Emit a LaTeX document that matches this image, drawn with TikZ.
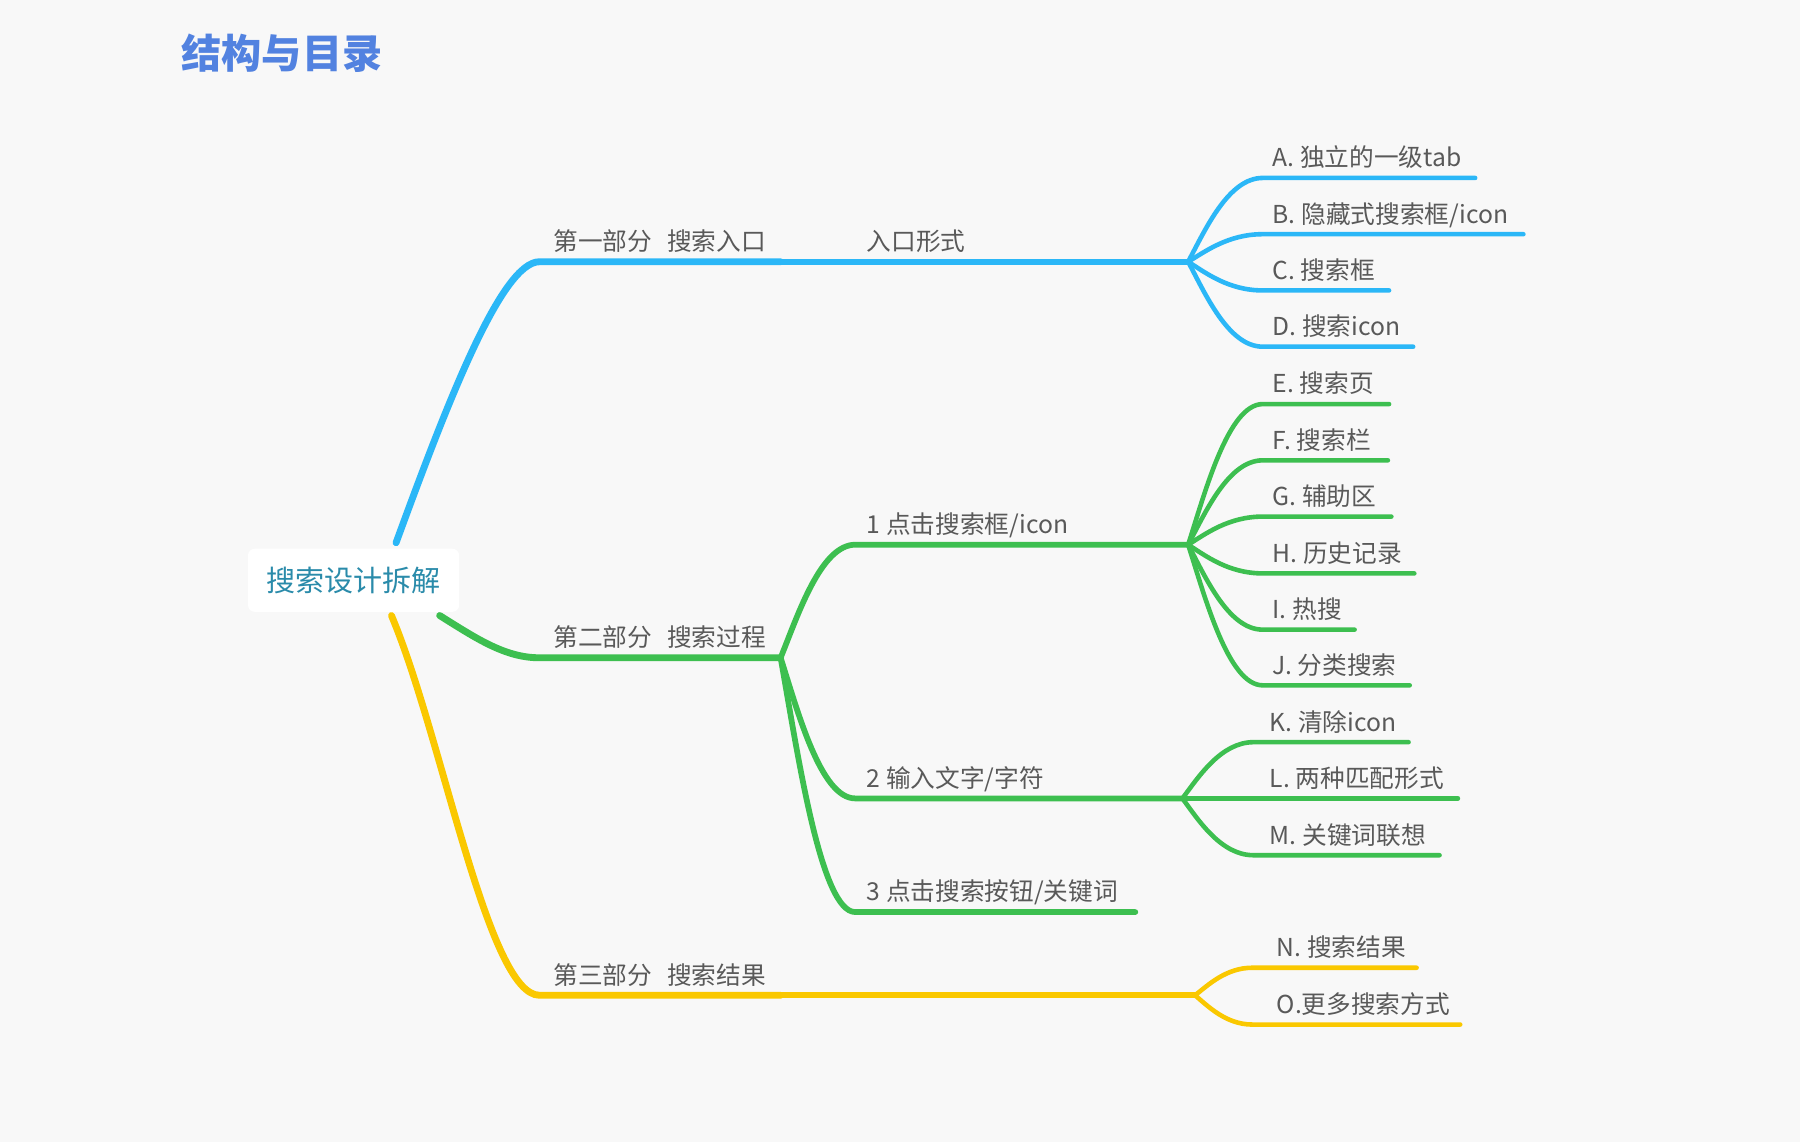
\documentclass[tikz,border=0pt]{standalone}
\usepackage{fontspec}
\setmainfont{Noto Sans CJK SC}
\usepackage{xcolor}
\usepackage{tikz}

\definecolor{bgpage}{HTML}{F8F8F8}
\definecolor{titleblue}{HTML}{5282E0}
\definecolor{rootteal}{HTML}{2A8BAA}
\definecolor{txtgray}{HTML}{595959}
\definecolor{lineblue}{HTML}{2BB7F7}
\definecolor{linegreen}{HTML}{3DBF50}
\definecolor{lineyellow}{HTML}{FAC800}

\begin{document}
\begin{tikzpicture}[x=1pt, y=-1pt, line cap=round,
    rootbox/.style={fill=white, rounded corners=6pt, minimum width=184pt, minimum height=55pt,
        text=rootteal, font=\fontsize{25.3}{30}\selectfont},
    parttopic/.style={anchor=south west, inner xsep=12pt, inner ysep=9.5pt, text depth=0pt,
        text=txtgray, font=\fontsize{21.5}{26}\selectfont},
    subtopic/.style={parttopic, inner xsep=10pt},
    leaftopic/.style={parttopic, inner xsep=8.5pt},
    lv1/.style={line width=6pt},
    lv2/.style={line width=5pt},
    lv3/.style={line width=4pt}]
    \fill[bgpage] (0,0) rectangle (1568,994.8);
    \useasboundingbox (0,0) rectangle (1568,994.8);

    % title and central topic
    \node[anchor=west, inner sep=0pt, text=titleblue, font=\fontsize{35}{40}\selectfont\bfseries] (title) at (158,46) {结构与目录};
    \node[rootbox] (root) at (308,505.5) {搜索设计拆解};

    % main topics
    \node[parttopic] (p1) at (470,228) {第一部分\hspace{0.6em}搜索入口};
    \node[parttopic] (p2) at (470,573) {第二部分\hspace{0.6em}搜索过程};
    \node[parttopic] (p3) at (470,867) {第三部分\hspace{0.6em}搜索结果};

    \node[subtopic] (s1) at (745,228) {入口形式};
    \node[subtopic] (s2) at (745,474.5) {1 点击搜索框/icon};
    \node[subtopic] (s3) at (745,695.5) {2 输入文字/字符};
    \node[subtopic] (s4) at (745,794.5) {3 点击搜索按钮/关键词};

    % leaves
    \node[leaftopic] (A) at (1100,155) {A. 独立的一级tab};
    \node[leaftopic] (B) at (1100,204) {B. 隐藏式搜索框/icon};
    \node[leaftopic] (C) at (1100,253) {C. 搜索框};
    \node[leaftopic] (D) at (1100,302) {D. 搜索icon};
    \node[leaftopic] (E) at (1100,352) {E. 搜索页};
    \node[leaftopic] (F) at (1100,401) {F. 搜索栏};
    \node[leaftopic] (G) at (1100,450) {G. 辅助区};
    \node[leaftopic] (H) at (1100,499.5) {H. 历史记录};
    \node[leaftopic] (I) at (1100,548.5) {I. 热搜};
    \node[leaftopic] (J) at (1100,597) {J. 分类搜索};
    \node[leaftopic, inner xsep=14pt] (K) at (1092,646.5) {K. 清除icon};
    \node[leaftopic, inner xsep=14pt] (L) at (1092,695.5) {L. 两种匹配形式};
    \node[leaftopic, inner xsep=14pt] (M) at (1092,745) {M. 关键词联想};
    \node[leaftopic, inner xsep=21pt] (N) at (1091,843) {N. 搜索结果};
    \node[leaftopic, inner xsep=21pt] (O) at (1091,892.5) {O.更多搜索方式};

    % blue branch
    \draw[lineblue, lv1] ([xshift=37pt,yshift=5pt]root.north) .. controls +(45,-123) and +(-33,0) .. (p1.south west) -- ++(210,0) coordinate (p1end);
    \draw[lineblue, lv2] (p1end) -- (s1.south west) -- ++(290,0) coordinate (f1);
    \draw[lineblue, lv3] (f1) .. controls +(15,-28) and +(-30,0) .. (A.south west) -- ++(185,0);
    \draw[lineblue, lv3] (f1) .. controls +(15,-9) and +(-30,0) .. (B.south west) -- ++(227,0);
    \draw[lineblue, lv3] (f1) .. controls +(15,9.5) and +(-30,0) .. (C.south west) -- ++(110,0);
    \draw[lineblue, lv3] (f1) .. controls +(15,28) and +(-30,0) .. (D.south west) -- ++(131,0);

    % green branch
    \draw[linegreen, lv1] ([xshift=75pt,yshift=-3pt]root.south) .. controls +(32,20) and +(-30,0) .. (p2.south west) -- ++(210,0) coordinate (f2);
    \draw[linegreen, lv2] (f2) .. controls +(15,-37) and +(-30,0) .. (s2.south west) -- ++(290,0) coordinate (g1);
    \draw[linegreen, lv2] (f2) .. controls +(15,47) and +(-30,0) .. (s3.south west) -- ++(285,0) coordinate (g2);
    \draw[linegreen, lv2] (f2) .. controls +(15,84) and +(-30,0) .. (s4.south west) -- ++(244,0);
    \draw[linegreen, lv3] (g1) .. controls +(15,-46.5) and +(-30,0) .. (E.south west) -- ++(110,0);
    \draw[linegreen, lv3] (g1) .. controls +(15,-28) and +(-30,0) .. (F.south west) -- ++(109,0);
    \draw[linegreen, lv3] (g1) .. controls +(15,-9.3) and +(-30,0) .. (G.south west) -- ++(112,0);
    \draw[linegreen, lv3] (g1) .. controls +(15,9.5) and +(-30,0) .. (H.south west) -- ++(132,0);
    \draw[linegreen, lv3] (g1) .. controls +(15,28) and +(-30,0) .. (I.south west) -- ++(80,0);
    \draw[linegreen, lv3] (g1) .. controls +(15,46.5) and +(-30,0) .. (J.south west) -- ++(128,0);
    \draw[linegreen, lv3] (g2) .. controls +(14,-18.6) and +(-28.5,0) .. (K.south west) -- ++(135,0);
    \draw[linegreen, lv3] (g2) -- (L.south west) -- ++(178,0);
    \draw[linegreen, lv3] (g2) .. controls +(14,19) and +(-28.5,0) .. (M.south west) -- ++(162,0);

    % yellow branch
    \coordinate (f3) at (1041,867);
    \draw[lineyellow, lv1] ([xshift=33pt,yshift=-3pt]root.south) .. controls +(44,104) and +(-45,0) .. (p3.south west) -- ++(210,0) coordinate (p3end);
    \draw[lineyellow, lv2] (p3end) -- (f3);
    \draw[lineyellow, lv3] (f3) .. controls +(11.5,-9) and +(-23,0) .. (N.south west) -- ++(143,0);
    \draw[lineyellow, lv3] (f3) .. controls +(11.5,9.7) and +(-23,0) .. (O.south west) -- ++(181,0);
\end{tikzpicture}
\end{document}
